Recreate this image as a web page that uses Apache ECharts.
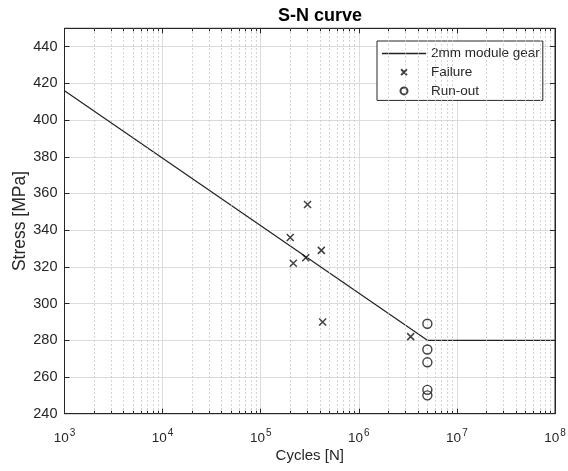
<!DOCTYPE html>
<html>
<head>
<meta charset="utf-8">
<script src="https://cdn.jsdelivr.net/npm/echarts@6/dist/echarts.min.js"></script>
<style>html,body{margin:0;padding:0;background:#fff}#c{width:568px;height:471px}</style>
</head>
<body>
<div id="c"></div>
<script>
// S-N curve (fitted line): cycles, stress [MPa]
const curveCycles = [1e3, 5e6, 1e8];
const curveStress = [416, 280, 280];
// Failure points
const failCycles = [3.0e5, 2.0e5, 4.15e5, 2.88e5, 2.15e5, 4.28e5, 3.38e6];
const failStress = [354, 336, 329, 325, 322, 290, 282];
// Run-out points
const runCycles = [5e6, 5e6, 5e6, 5e6, 5e6];
const runStress = [289, 275, 268, 253, 250];
// Axis ticks
const xTickExponents = [3, 4, 5, 6, 7, 8];
const yTicks = [240, 260, 280, 300, 320, 340, 360, 380, 400, 420, 440];
const seriesNames = ['2mm module gear', 'Failure', 'Run-out'];

const minorVals = [];
for (let e = 3; e < 8; e++) for (let m = 2; m <= 9; m++) minorVals.push(m * Math.pow(10, e));

const FONT = 'Liberation Sans';
const DARK = '#262626';
const chart = echarts.init(document.getElementById('c'), null, {renderer: 'canvas'});

const xMarker = 'path://M0,0L10,10M10,0L0,10';
const xMarkerLegend = 'path://M0,0M12,12M1,1L11,11M11,1L1,11';
const lineLegend = 'path://M0,0h44v1.3h-44z';

const minorGrid = minorVals.map(v => ({xAxis: v}));
const minorTicks = [];
minorVals.forEach(v => {
  minorTicks.push([{coord: [v, 240]}, {coord: [v, 241.6]}]);
  minorTicks.push([{coord: [v, 450]}, {coord: [v, 448.4]}]);
});

chart.setOption({
  animation: false,
  backgroundColor: '#fff',
  title: {
    text: 'S-N curve', left: 315, top: 2, textAlign: 'center',
    textStyle: {fontFamily: FONT, fontSize: 18, fontWeight: 'bold', color: '#000'}
  },
  grid: {left: 64.5, right: 13, top: 28.3, bottom: 57.3, containLabel: false, outerBoundsMode: 'none',
    show: true, borderColor: DARK, borderWidth: 1, backgroundColor: '#fff'},
  legend: {
    left: 377, top: 41, orient: 'vertical',
    backgroundColor: '#fff', borderColor: DARK, borderWidth: 1,
    padding: [5, 3, 2, 5], itemWidth: 44, itemHeight: 7, itemGap: 3.7,
    textStyle: {fontFamily: FONT, fontSize: 13.5, color: DARK, lineHeight: 15},
    data: [
      {name: seriesNames[0], icon: lineLegend},
      {name: seriesNames[1], icon: xMarkerLegend},
      {name: seriesNames[2], icon: 'circle'}
    ]
  },
  xAxis: [{
    type: 'log', logBase: 10, min: 1e3, max: 1e8, position: 'bottom',
    name: 'Cycles [N]', nameLocation: 'middle', nameGap: 35, nameMoveOverlap: false,
    nameTextStyle: {fontFamily: FONT, fontSize: 15, color: DARK},
    axisLine: {show: true, lineStyle: {color: DARK, width: 1}},
    axisTick: {show: true, inside: true, length: 5, lineStyle: {color: DARK}},
    splitLine: {show: true, lineStyle: {color: '#dcdcdc', width: 1}},
    axisLabel: {
      margin: 10,
      formatter: function (v) {
        const e = Math.round(Math.log10(v));
        return xTickExponents.indexOf(e) >= 0 ? '{b|10}{s|' + e + '}' : '';
      },
      rich: {
        b: {fontFamily: FONT, fontSize: 13.5, color: DARK, verticalAlign: 'bottom', lineHeight: 22},
        s: {fontFamily: FONT, fontSize: 10, color: DARK, verticalAlign: 'top', lineHeight: 12, padding: [5, 0, 0, 1]}
      }
    }
  }, {
    type: 'log', logBase: 10, min: 1e3, max: 1e8, position: 'top',
    axisLine: {show: true, lineStyle: {color: DARK}},
    axisTick: {show: true, inside: true, length: 5, lineStyle: {color: DARK}},
    axisLabel: {show: false}, splitLine: {show: false}
  }],
  yAxis: [{
    type: 'value', min: 240, max: 450, interval: 20, position: 'left',
    name: 'Stress [MPa]', nameLocation: 'middle', nameGap: 35, nameMoveOverlap: false,
    nameTextStyle: {fontFamily: FONT, fontSize: 17.5, color: DARK},
    axisLine: {show: true, lineStyle: {color: DARK, width: 1}},
    axisTick: {show: true, inside: true, length: 5, lineStyle: {color: DARK}},
    splitLine: {show: true, lineStyle: {color: '#dcdcdc', width: 1}},
    axisLabel: {
      fontFamily: FONT, fontSize: 14.5, color: DARK, margin: 7, showMaxLabel: false,
      formatter: v => (yTicks.indexOf(v) >= 0 ? String(v) : '')
    }
  }, {
    type: 'value', min: 240, max: 450, interval: 20, position: 'right',
    axisLine: {show: true, lineStyle: {color: DARK}},
    axisTick: {show: true, inside: true, length: 5, lineStyle: {color: DARK}},
    axisLabel: {show: false}, splitLine: {show: false}
  }],
  series: [
    {
      name: 'minor', type: 'line', data: [], silent: true, z: 1,
      markLine: {
        silent: true, symbol: 'none', label: {show: false},
        lineStyle: {color: '#c8c8c8', type: [1.5, 2.5], width: 1},
        data: minorGrid
      }
    },
    {
      name: 'minorTicks', type: 'line', data: [], silent: true, z: 3,
      markLine: {
        silent: true, symbol: 'none', label: {show: false},
        lineStyle: {color: DARK, type: 'solid', width: 1},
        data: minorTicks
      }
    },
    {
      name: seriesNames[0], type: 'line', showSymbol: false, symbol: 'none', z: 4,
      lineStyle: {color: '#222', width: 1.2},
      itemStyle: {color: '#222'},
      data: curveCycles.map((c, i) => [c, curveStress[i]])
    },
    {
      name: seriesNames[1], type: 'scatter', symbol: xMarker, symbolSize: 7, z: 5,
      itemStyle: {color: 'rgba(0,0,0,0)', borderColor: '#111', borderWidth: 1.5},
      data: failCycles.map((c, i) => [c, failStress[i]])
    },
    {
      name: seriesNames[2], type: 'scatter', symbol: 'circle', symbolSize: 9, z: 5,
      itemStyle: {color: 'rgba(0,0,0,0)', borderColor: '#111', borderWidth: 1.4},
      data: runCycles.map((c, i) => [c, runStress[i]])
    }
  ]
});
</script>
</body>
</html>
